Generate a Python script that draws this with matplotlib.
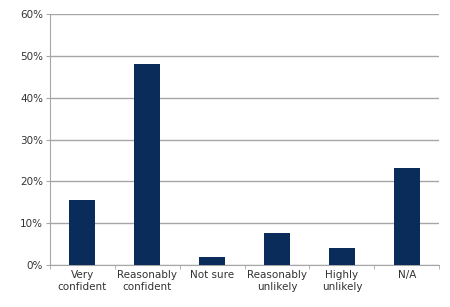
import numpy as np
import matplotlib.pyplot as plt
from matplotlib.ticker import FixedLocator, PercentFormatter

categories = ["Very\nconfident", "Reasonably\nconfident", "Not sure",
              "Reasonably\nunlikely", "Highly\nunlikely", "N/A"]
values = [15.5, 48.0, 2.0, 7.7, 4.0, 23.2]

fig = plt.figure(figsize=(4.5, 3.07), dpi=100)
ax = fig.add_axes([0.111, 0.137, 0.865, 0.817])

x = np.arange(len(categories))
ax.bar(x, values, width=0.4, color="#0a2c5a", zorder=3)

ax.set_xlim(-0.5, len(categories) - 0.5)
ax.set_ylim(0, 60)
ax.set_yticks(np.arange(0, 61, 10))
ax.yaxis.set_major_formatter(PercentFormatter(decimals=0))
ax.yaxis.grid(True, color="#a6a6a6", linewidth=1, zorder=0)

ax.set_xticks(x)
ax.set_xticklabels(categories)
ax.xaxis.set_minor_locator(FixedLocator(np.arange(-0.5, len(categories), 1)))
ax.tick_params(axis="x", which="major", length=0, pad=4)
ax.tick_params(axis="x", which="minor", length=3, color="#a6a6a6")
ax.tick_params(axis="y", length=3, color="#a6a6a6", pad=2)
ax.tick_params(labelsize=7.5, labelcolor="#333333")

for side in ["top", "right"]:
    ax.spines[side].set_visible(False)
for side in ["left", "bottom"]:
    ax.spines[side].set_color("#a6a6a6")

fig.savefig("out.png", dpi=100)
